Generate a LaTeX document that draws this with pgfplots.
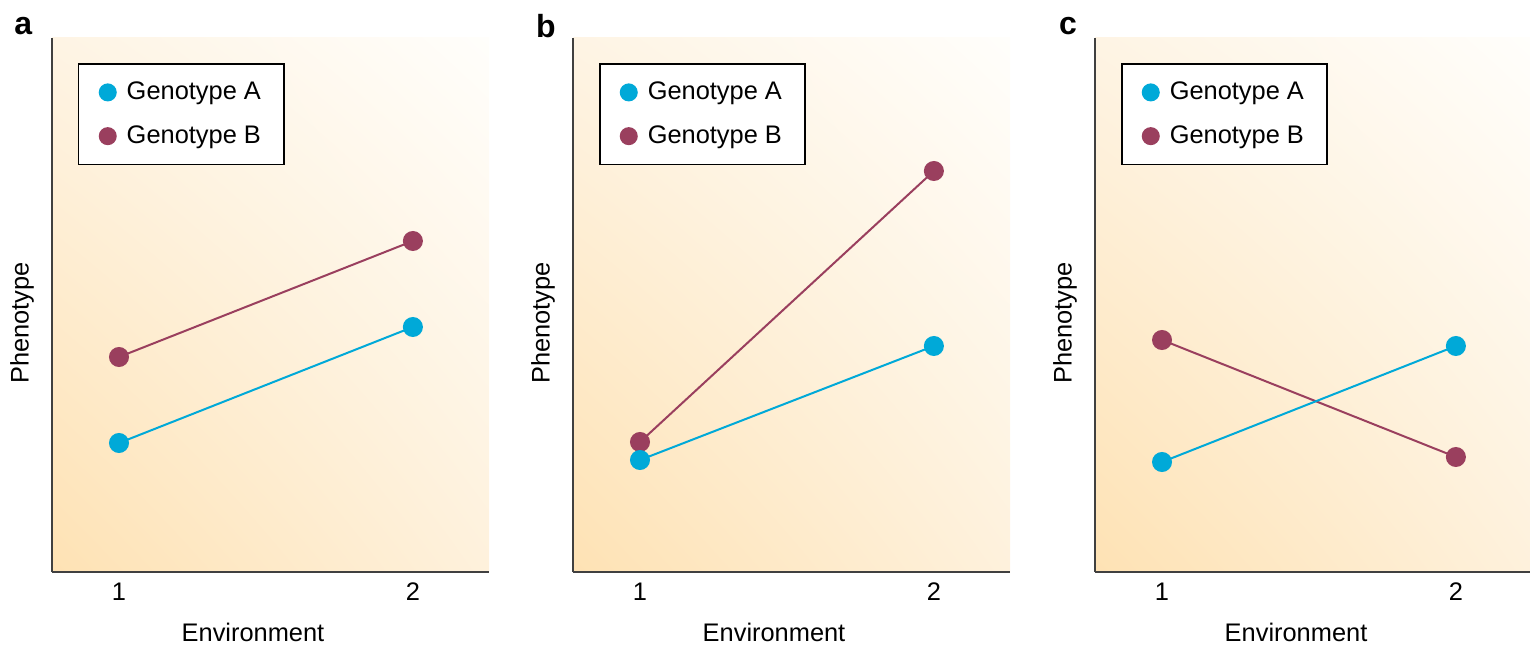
\documentclass[border=0pt]{standalone}
\usepackage{fontspec}
\setmainfont{Liberation Sans}
\usepackage{pgfplots}
\pgfplotsset{compat=1.18}
\usetikzlibrary{shadings}
\definecolor{genA}{HTML}{00A9D8}
\definecolor{genB}{HTML}{9A3F5E}
\definecolor{bgLL}{HTML}{FEE2B4}
\definecolor{bgUL}{HTML}{FEF4E4}
\definecolor{bgLR}{HTML}{FEF1DC}
\definecolor{bgUR}{HTML}{FFFEFB}
\newcommand{\lblfont}{\fontsize{12.7}{15}\selectfont}
\pgfplotsset{panel/.style={
  width=218.5pt, height=267pt, scale only axis,
  xmin=0.772, xmax=2.259, ymin=0, ymax=534,
  axis lines=left, axis line style={-, line width=1pt, color=black!75},
  xtick={1,2}, ytick=\empty, major tick length=0pt,
  /pgf/number format/assume math mode=true,
  tick label style={font=\lblfont},
  xticklabel style={anchor=center, yshift=-10pt},
  xlabel={Environment}, ylabel={Phenotype},
  label style={font=\lblfont},
  xlabel style={at={(axis description cs:0.46,-0.1124)}, anchor=center},
  ylabel style={at={(axis description cs:-0.0686,0.466)}, anchor=center},
  axis background/.style={lower left=bgLL, upper left=bgUL, upper right=bgUR, lower right=bgLR},
  clip=false,
  reverse legend,
  legend style={at={(axis description cs:0.0595,0.953)}, anchor=north west, draw=black, line width=0.75pt, fill=white, font=\lblfont, inner xsep=9.5pt, inner ysep=7.1pt, row sep=7.5pt, cells={anchor=west}},
  legend image code/.code={\path[draw=none,fill=none] (-5pt,0pt) -- (7.5pt,0pt); \fill[##1] (0pt,0pt) circle (4pt);},
  every axis plot/.append style={line width=1pt, mark=*, mark size=4.5pt, mark options={solid}},
}}
\begin{document}
\begin{tikzpicture}
\path[use as bounding box] (-26pt,-37.5pt) rectangle (739pt,286pt);
% panel a
\begin{axis}[panel, at={(0pt,0pt)}]
\addplot[color=genB] coordinates {(1,215) (2,331)};
\addlegendentry{Genotype B}
\addplot[color=genA] coordinates {(1,129) (2,245)};
\addlegendentry{Genotype A}
\node[font=\bfseries\fontsize{16}{18}\selectfont] at (axis description cs:-0.066,1.022) {a};
\end{axis}
% panel b
\begin{axis}[panel, at={(260.5pt,0pt)}]
\addplot[color=genB] coordinates {(1,130) (2,401)};
\addlegendentry{Genotype B}
\addplot[color=genA] coordinates {(1,112) (2,226)};
\addlegendentry{Genotype A}
\node[font=\bfseries\fontsize{16}{18}\selectfont] at (axis description cs:-0.062,1.022) {b};
\end{axis}
% panel c
\begin{axis}[panel, at={(521.5pt,0pt)}]
\addplot[color=genB] coordinates {(1,232) (2,115)};
\addlegendentry{Genotype B}
\addplot[color=genA] coordinates {(1,110) (2,226)};
\addlegendentry{Genotype A}
\node[font=\bfseries\fontsize{16}{18}\selectfont] at (axis description cs:-0.062,1.022) {c};
\end{axis}
\end{tikzpicture}
\end{document}
